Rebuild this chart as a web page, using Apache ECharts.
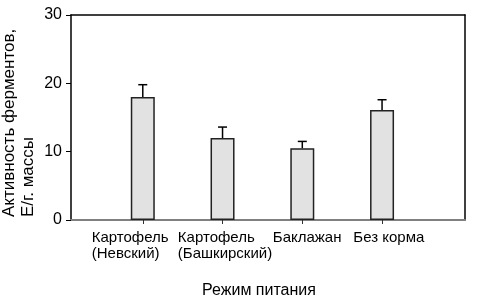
<!DOCTYPE html>
<html>
<head>
<meta charset="utf-8">
<script src="https://cdn.jsdelivr.net/npm/echarts@6/dist/echarts.min.js"></script>
<style>
  html, body { margin: 0; padding: 0; background: #fff; }
  #chart { width: 483px; height: 304px; }
</style>
</head>
<body>
<div id="chart"></div>
<script>
// data
const categories = ['Картофель\n(Невский)', 'Картофель\n(Башкирский)', 'Баклажан', 'Без корма'];
const activity = [18.0, 12.0, 10.5, 16.1];
const errorUp = [1.8, 1.6, 1.0, 1.5];
const yTicks = [0, 10, 20, 30];

// label blocks sit left of their ticks in the original (layout only)
const labelShift = [-0.64, -0.56, -0.37, -0.36];

const FONT = 'Liberation Sans, Arial, sans-serif';
const chart = echarts.init(document.getElementById('chart'), null, { renderer: 'canvas' });

const positions = categories.map((c, i) => i + 1);

const option = {
  animation: false,
  grid: { left: 71, right: 18, top: 15, bottom: 84 },
  xAxis: [
    {
      type: 'value',
      min: 0.1,
      max: 5.04,
      axisLine: { onZero: false, lineStyle: { color: '#808080', width: 2 } },
      axisTick: { customValues: positions, length: 4, lineStyle: { color: '#333', width: 1 } },
      axisLabel: {
        customValues: positions.map((p, i) => p + labelShift[i]),
        align: 'left',
        margin: 10,
        color: '#000',
        fontFamily: FONT,
        fontSize: 15,
        lineHeight: 16,
        formatter: (v) => categories[Math.round(v + 0.5) - 1]
      },
      splitLine: { show: false }
    },
    {
      type: 'value',
      position: 'top',
      min: 0.1,
      max: 5.04,
      axisLine: { onZero: false, lineStyle: { color: '#000', width: 1.5 } },
      axisTick: { show: false },
      axisLabel: { show: false },
      splitLine: { show: false }
    }
  ],
  yAxis: [
    {
      type: 'value',
      min: 0,
      max: 30,
      interval: 10,
      axisLine: { show: true, onZero: false, lineStyle: { color: '#000', width: 1.5 } },
      axisTick: { show: true, length: 5, lineStyle: { color: '#000', width: 1 } },
      axisLabel: {
        color: '#000',
        fontFamily: FONT,
        fontSize: 16,
        margin: 9,
        formatter: (v) => (yTicks.includes(v) ? String(v) : '')
      },
      splitLine: { show: false }
    },
    {
      type: 'value',
      position: 'right',
      min: 0,
      max: 30,
      axisLine: { show: true, onZero: false, lineStyle: { color: '#000', width: 1.5 } },
      axisTick: { show: false },
      axisLabel: { show: false },
      splitLine: { show: false }
    }
  ],
  series: [
    {
      type: 'bar',
      barWidth: 24,
      data: activity.map((v, i) => [positions[i], v]),
      itemStyle: { color: '#e2e2e2', borderColor: '#222', borderWidth: 1.5 }
    },
    {
      type: 'custom',
      z: 5,
      data: activity.map((v, i) => [positions[i], v + errorUp[i], v]),
      renderItem: (params, api) => {
        const top = api.coord([api.value(0), api.value(1)]);
        const base = api.coord([api.value(0), api.value(2)]);
        const cap = 4.5;
        const style = { stroke: '#000', lineWidth: 1.5 };
        return {
          type: 'group',
          children: [
            { type: 'line', shape: { x1: top[0], y1: top[1], x2: base[0], y2: base[1] }, style },
            { type: 'line', shape: { x1: top[0] - cap, y1: top[1], x2: top[0] + cap, y2: top[1] }, style }
          ]
        };
      }
    }
  ],
  graphic: [
    {
      type: 'text',
      x: 0,
      y: 217,
      rotation: Math.PI / 2,
      style: {
        text: 'Активность ферментов,\nЕ/г. массы',
        font: '17px ' + FONT,
        lineHeight: 19,
        fill: '#000',
        align: 'left',
        verticalAlign: 'top'
      }
    },
    {
      type: 'text',
      x: 259,
      y: 291,
      style: {
        text: 'Режим питания',
        font: '16px ' + FONT,
        fill: '#000',
        align: 'center',
        verticalAlign: 'middle'
      }
    }
  ]
};

chart.setOption(option);
</script>
</body>
</html>
